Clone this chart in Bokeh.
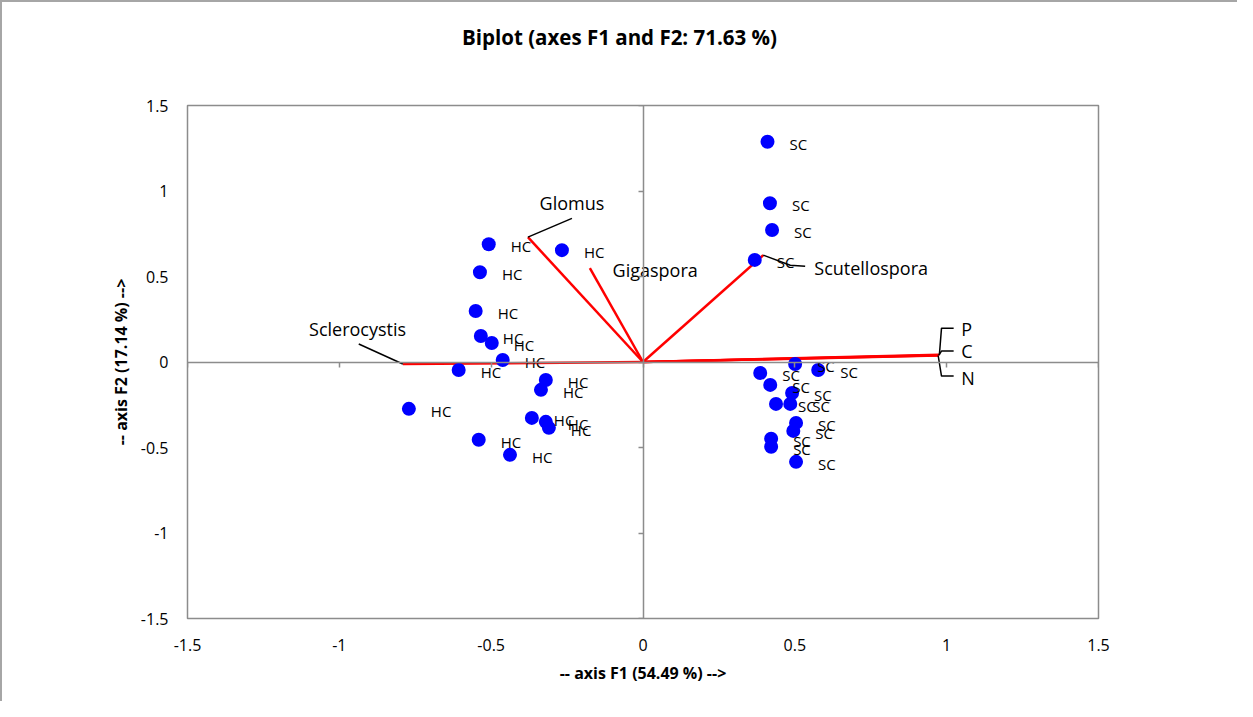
from bokeh.plotting import figure
from bokeh.models import FixedTicker, LinearAxis, Range1d, ColumnDataSource, Div
from bokeh.layouts import column
from bokeh.embed import file_html
from bokeh.resources import INLINE
from bokeh.core.properties import value

# ---- data -------------------------------------------------------------
hc_x = [-0.508, -0.267, -0.537, -0.551, -0.534, -0.498, -0.462, -0.607,
        -0.320, -0.336, -0.771, -0.366, -0.320, -0.310, -0.541, -0.438]
hc_y = [0.689, 0.654, 0.525, 0.298, 0.152, 0.111, 0.012, -0.047,
        -0.105, -0.163, -0.274, -0.327, -0.350, -0.385, -0.455, -0.543]
hc_lab = ["HC"] * len(hc_x)

sc_x = [0.410, 0.418, 0.425, 0.368, 0.386, 0.501, 0.577, 0.419,
        0.491, 0.438, 0.485, 0.504, 0.495, 0.422, 0.422, 0.504]
sc_y = [1.288, 0.928, 0.772, 0.597, -0.064, -0.012, -0.047, -0.134,
        -0.181, -0.245, -0.245, -0.356, -0.403, -0.449, -0.496, -0.584]
sc_lab = ["SC"] * len(sc_x)

var_names = ["Glomus", "Gigaspora", "Scutellospora", "Sclerocystis", "P", "C", "N"]
var_x = [-0.379, -0.175, 0.396, -0.791, 0.976, 0.974, 0.972]
var_y = [0.730, 0.549, 0.625, -0.012, 0.042, 0.040, 0.038]

# label anchors for variable names (data units)
name_x = [-0.234, 0.040, 0.564, -0.940, 1.048, 1.048, 1.048]
name_y = [0.928, 0.537, 0.549, 0.193, 0.193, 0.064, -0.093]

ticks = [-1.5, -1, -0.5, 0, 0.5, 1, 1.5]
tick_labels = ["-1.5", "-1", "-0.5", "0", "0.5", "1", "1.5"]

title_text = "Biplot (axes F1 and F2: 71.63 %)"
x_title = "-- axis F1 (54.49 %) -->"
y_title = "-- axis F2 (17.14 %) -->"

FONT = "Open Sans"
GRAY = "#8c8c8c"
W = 1235
TITLE_H = 62

# ---- title ------------------------------------------------------------
title_div = Div(
    text=('<div style="margin-top:23px; padding-left:20px; width:%dpx; text-align:center; '
          'font-family:\'Open Sans\'; font-size:20.5px; font-weight:bold; line-height:24px; '
          'color:black; white-space:nowrap;">%s</div>') % (W - 20, title_text),
    width=W, height=TITLE_H, margin=0)

# ---- figure -----------------------------------------------------------
p = figure(width=W, height=699 - TITLE_H, x_range=Range1d(-1.5, 1.5), y_range=Range1d(-1.5, 1.5),
           output_backend="svg", toolbar_location=None,
           min_border_left=185, min_border_right=139, min_border_top=103 - TITLE_H,
           min_border_bottom=83)
p.grid.visible = False
p.outline_line_color = GRAY
p.outline_line_width = 1.5
p.background_fill_color = "white"
p.border_fill_color = "white"

overrides = {(int(t) if float(t).is_integer() else t): lab for t, lab in zip(ticks, tick_labels)}

for ax, lab, std, lstd in ((p.xaxis[0], x_title, 14, 8), (p.yaxis[0], y_title, 13, 6)):
    ax.ticker = FixedTicker(ticks=ticks)
    ax.major_label_overrides = overrides
    ax.axis_line_color = None
    ax.major_tick_line_color = None
    ax.minor_tick_line_color = None
    ax.major_label_standoff = std
    ax.major_label_text_font = FONT
    ax.major_label_text_font_size = "16px"
    ax.major_label_text_color = "black"
    ax.axis_label = lab
    ax.axis_label_text_font = FONT
    ax.axis_label_text_font_size = "16px"
    ax.axis_label_text_font_style = "bold"
    ax.axis_label_text_color = "black"
    ax.axis_label_standoff = lstd

# axes through the origin (line + tick marks only)
for side in ("below", "left"):
    cax = LinearAxis(fixed_location=0, ticker=FixedTicker(ticks=ticks),
                     axis_line_color=GRAY, axis_line_width=1.5,
                     major_tick_line_color=GRAY, major_tick_line_width=1.5,
                     major_tick_out=5, major_tick_in=0,
                     minor_tick_line_color=None,
                     major_label_text_color=None, major_label_text_font_size="0px")
    p.add_layout(cax, side)

# variable vectors
vsrc = ColumnDataSource(dict(x0=[0] * len(var_x), y0=[0] * len(var_y), x1=var_x, y1=var_y))
p.segment(x0="x0", y0="y0", x1="x1", y1="y1", source=vsrc, line_color="#ff0000", line_width=2.5)

# leader lines from vector ends to labels
lead_xs = [
    [var_x[0], name_x[0]],
    [var_x[3], name_x[3] + 0.004],
    [var_x[2], 0.485, name_x[2] - 0.030],
    [var_x[4], 0.983, name_x[4] - 0.025],
    [var_x[5], 0.983, name_x[5] - 0.025],
    [var_x[6], 0.983, name_x[6] - 0.025],
]
lead_ys = [
    [var_y[0], name_y[0] - 0.088],
    [var_y[3], name_y[3] - 0.088],
    [var_y[2], 0.566, name_y[2] + 0.011],
    [var_y[4], name_y[4] + 0.005, name_y[4] + 0.005],
    [var_y[5], name_y[5], name_y[5]],
    [var_y[6], name_y[6] + 0.011, name_y[6] + 0.011],
]
p.multi_line(xs=lead_xs, ys=lead_ys, line_color="black", line_width=1.5)

# observations
p.scatter(hc_x, hc_y, size=14, fill_color="#0000ff", line_color=None)
p.scatter(sc_x, sc_y, size=14, fill_color="#0000ff", line_color=None)

obs = ColumnDataSource(dict(x=hc_x + sc_x, y=hc_y + sc_y, t=hc_lab + sc_lab))
p.text(x="x", y="y", text="t", source=obs, x_offset=22, y_offset=2,
       text_font=value(FONT), text_font_size="15px", text_align="left",
       text_baseline="middle", text_color="black")

# variable names
ci = [0, 1, 3]
li = [2]
pi = [4, 5, 6]
p.text(x=[name_x[i] for i in ci], y=[name_y[i] for i in ci], text=[var_names[i] for i in ci],
       text_font=value(FONT), text_font_size="18px", text_align="center",
       text_baseline="middle", text_color="black")
p.text(x=[name_x[i] for i in li], y=[name_y[i] for i in li], text=[var_names[i] for i in li],
       text_font=value(FONT), text_font_size="18px", text_align="left",
       text_baseline="middle", text_color="black")
p.text(x=[name_x[i] for i in pi], y=[name_y[i] for i in pi], text=[var_names[i] for i in pi],
       text_font=value(FONT), text_font_size="18px", text_align="left",
       text_baseline="middle", text_color="black")

layout = column(title_div, p, spacing=0)
layout.styles = {"border-left": "2px solid #a6a6a6", "border-top": "2px solid #a6a6a6",
                 "background-color": "white"}

open("out.html", "w").write(file_html(layout, INLINE))
